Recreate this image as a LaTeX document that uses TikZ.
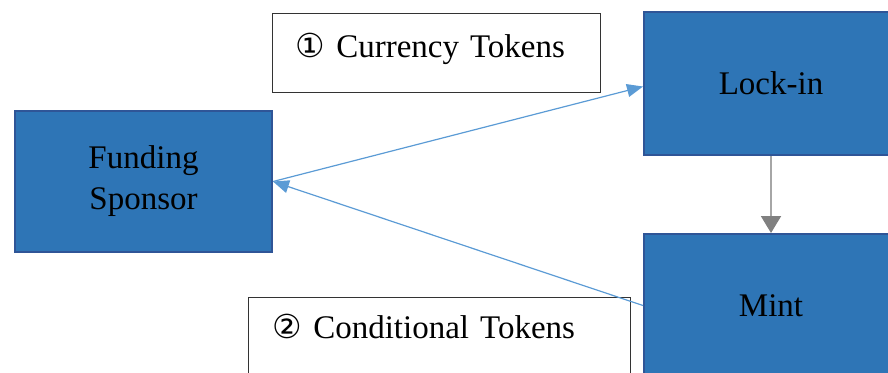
\documentclass[tikz,border=0pt]{standalone}
\usepackage{fontspec}
\setmainfont{Liberation Serif}
\newfontfamily\circfont{DejaVu Sans}
\usetikzlibrary{arrows.meta,positioning}
\definecolor{boxblue}{HTML}{2E75B6}
\definecolor{boxedge}{HTML}{2F5597}
\definecolor{flowblue}{HTML}{5B9BD5}
\begin{document}
\begin{tikzpicture}[x=0.5pt,y=-0.5pt]
	\tikzset{blockbox/.style={draw=boxedge,line width=1pt,fill=boxblue,align=center,minimum width=127pt,minimum height=71.5pt,font=\fontsize{16.5}{20.5}\selectfont}}
	\tikzset{tokbox/.style={draw=black!80,line width=0.7pt,fill=white,anchor=north west,align=left,inner ysep=0pt,font=\fontsize{16.5}{20.5}\selectfont}}
	\tikzset{flow/.style={draw=flowblue,line width=0.6pt,-{Triangle[length=8pt,width=6.5pt]}}}
	\clip (0,0) rectangle (888,372);
	\node[tokbox,inner xsep=11.5pt,text width=141pt,text height=22pt,text depth=17.5pt] (cur) at (272,13) {{\circfont ①} Currency Tokens};
	\node[tokbox,inner xsep=12pt,text width=167pt,text height=20.5pt,text depth=22pt] (cond) at (248,297) {{\circfont ②} Conditional Tokens};
	\node[blockbox,minimum width=128.5pt,minimum height=70.5pt] (fund) at (143.5,181.5) {Funding\\Sponsor};
	\node[blockbox] (lock) at (771,83.5) {Lock-in};
	\node[blockbox,below=38.5pt of lock] (mint) {Mint};
	\draw[flow] (fund.east) -- ([yshift=-1.5pt]lock.west);
	\draw[flow] (mint.west) -- (fund.east);
	\draw[draw=black!35,line width=1pt,-{Triangle[length=8.5pt,width=10pt,color=black!50]}] (lock) -- (mint);
\end{tikzpicture}
\end{document}
